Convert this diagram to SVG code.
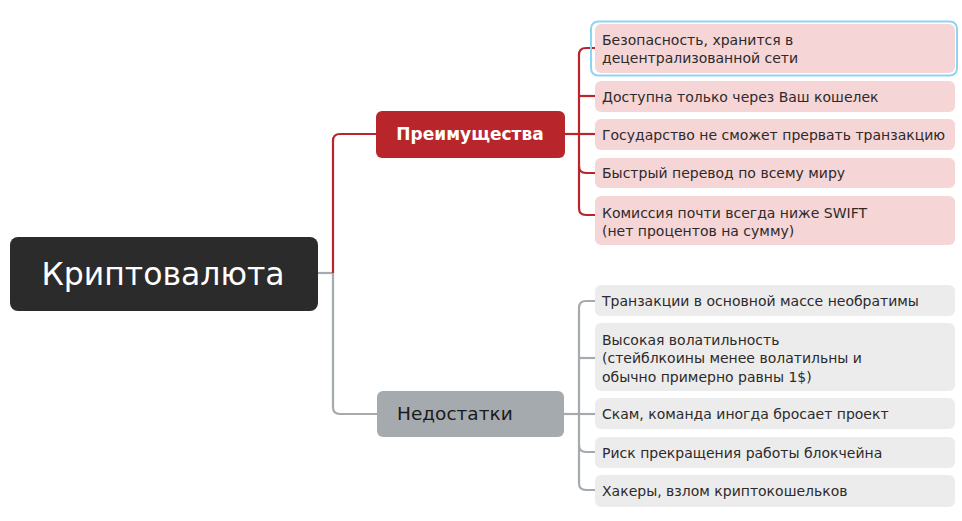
<svg xmlns="http://www.w3.org/2000/svg" width="962" height="521" viewBox="0 0 962 521">
<style>
.t{font-family:"DejaVu Sans",sans-serif;font-size:14px;fill:#2e2a2a}
.pro{fill:#f5d5d6}
.con{fill:#ececec}
.rc{fill:none;stroke:#b8262b;stroke-width:2.2}
.gc{fill:none;stroke:#a5aaae;stroke-width:2.2}
</style>
<rect width="962" height="521" fill="#ffffff"/>
<g id="connectors">
<path class="gc" d="M318 273 H333"/>
<path class="rc" d="M333 273 V141 Q333 134 340 134 H376"/>
<path class="gc" d="M333 273 V407 Q333 414 340 414 H377"/>
<path class="rc" d="M565 134 H579"/>
<path class="rc" d="M595 48 H586 Q579 48 579 55 V208 Q579 215 586 215 H595"/>
<path class="rc" d="M579 96 H595"/>
<path class="rc" d="M579 134 H595"/>
<path class="rc" d="M579 166 Q579 173 586 173 H595"/>
<path class="gc" d="M564 414 H579"/>
<path class="gc" d="M595 301 H586 Q579 301 579 308 V483 Q579 490 586 490 H595"/>
<path class="gc" d="M579 358 H595"/>
<path class="gc" d="M579 414 H595"/>
<path class="gc" d="M579 445 Q579 452 586 452 H595"/>
</g>
<g id="root">
<rect x="10" y="237" width="308" height="74" rx="8" fill="#2b2b2b"/>
<text x="163" y="285" text-anchor="middle" font-family="DejaVu Sans, sans-serif" font-size="31.5" fill="#ffffff">Криптовалюта</text>
</g>
<g id="pros">
<rect x="376" y="111" width="189" height="47" rx="6" fill="#b8262b"/>
<text x="470" y="140" text-anchor="middle" font-family="DejaVu Sans, sans-serif" font-size="17" font-weight="bold" fill="#ffffff">Преимущества</text>
</g>
<g id="cons">
<rect x="377" y="391" width="187" height="46" rx="6" fill="#a5aaae"/>
<text x="397" y="420" font-family="DejaVu Sans, sans-serif" font-size="18.5" fill="#1a1a1a">Недостатки</text>
</g>
<g id="pro1">
<rect x="591" y="21.5" width="366" height="54" rx="7" fill="none" stroke="#8fd3f2" stroke-width="2"/>
<rect x="595" y="24" width="360" height="49" rx="6" class="pro"/>
<text class="t" x="602" y="45">Безопасность, хранится в</text>
<text class="t" x="602" y="63">децентрализованной сети</text>
</g>
<g id="pro2">
<rect x="595" y="81" width="360" height="31" rx="6" class="pro"/>
<text class="t" x="602" y="102">Доступна только через Ваш кошелек</text>
</g>
<g id="pro3">
<rect x="595" y="119" width="360" height="31" rx="6" class="pro"/>
<text class="t" x="602" y="140">Государство не сможет прервать транзакцию</text>
</g>
<g id="pro4">
<rect x="595" y="158" width="360" height="30" rx="6" class="pro"/>
<text class="t" x="602" y="178">Быстрый перевод по всему миру</text>
</g>
<g id="pro5">
<rect x="595" y="196" width="360" height="49" rx="6" class="pro"/>
<text class="t" x="602" y="218">Комиссия почти всегда ниже SWIFT</text>
<text class="t" x="602" y="236">(нет процентов на сумму)</text>
</g>
<g id="con1">
<rect x="595" y="285" width="360" height="31" rx="6" class="con"/>
<text class="t" x="602" y="306">Транзакции в основной массе необратимы</text>
</g>
<g id="con2">
<rect x="595" y="323" width="360" height="68" rx="6" class="con"/>
<text class="t" x="602" y="345">Высокая волатильность</text>
<text class="t" x="602" y="363">(стейблкоины менее волатильны и</text>
<text class="t" x="602" y="382">обычно примерно равны 1$)</text>
</g>
<g id="con3">
<rect x="595" y="398" width="360" height="31" rx="6" class="con"/>
<text class="t" x="602" y="419">Скам, команда иногда бросает проект</text>
</g>
<g id="con4">
<rect x="595" y="437" width="360" height="31" rx="6" class="con"/>
<text class="t" x="602" y="458">Риск прекращения работы блокчейна</text>
</g>
<g id="con5">
<rect x="595" y="475" width="360" height="32" rx="6" class="con"/>
<text class="t" x="602" y="496">Хакеры, взлом криптокошельков</text>
</g>
</svg>
